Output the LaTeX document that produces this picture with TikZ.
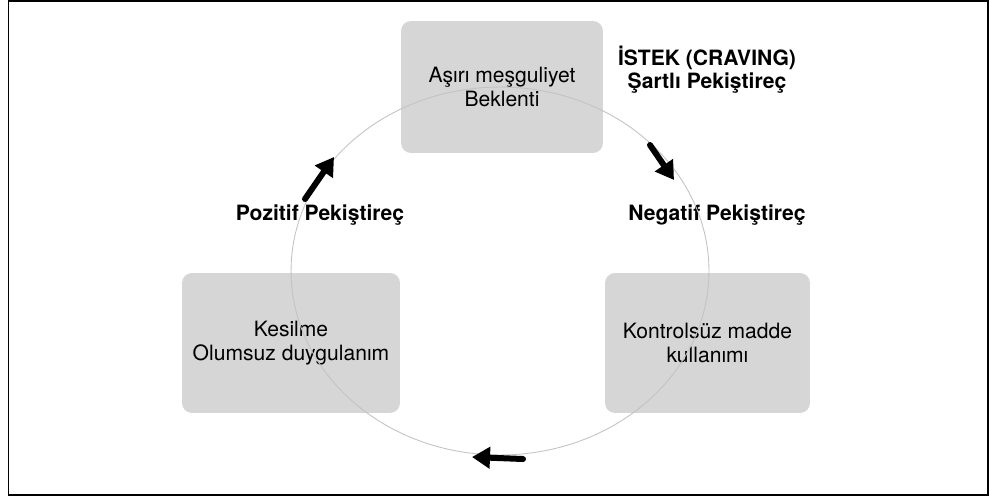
\documentclass[tikz,border=0pt]{standalone}
\usepackage{fontspec}
\setmainfont{TeX Gyre Heros}
\usetikzlibrary{arrows.meta, positioning}
\definecolor{boxgrey}{RGB}{214,214,214}
\definecolor{ringgrey}{RGB}{195,195,195}

\begin{document}
\begin{tikzpicture}[
  x=0.02cm, y=-0.02cm,
  stage/.style={rectangle, rounded corners=0.2cm, fill=boxgrey,
                minimum height=2.8cm, align=center,
                font=\fontsize{12}{13.6}\selectfont},
  lbl/.style={font=\fontsize{12}{13.2}\selectfont\bfseries, align=center},
  arr/.style={-{Triangle[length=0.36cm, width=0.42cm]}, line width=0.12cm, line cap=round},
  ring/.style={draw=ringgrey, line width=0.5pt}
]
\useasboundingbox (0,0) rectangle (989,497);
\draw[line width=0.04cm] (8.5,1) rectangle (988,495);

\node[stage, minimum width=4.04cm, minimum height=2.64cm] (craving) at (502,87) {Aşırı meşguliyet\\Beklenti};
\node[stage, minimum width=4.1cm]  (use)      at (707.5,343) {Kontrolsüz madde\\kullanımı};
\node[stage, minimum width=4.36cm] (withdraw) at (291,343)   {Kesilme\\Olumsuz duygulanım};

\node[lbl] (istek) at (707,70)  {İSTEK (CRAVING)\\Şartlı Pekiştireç};
\node[lbl] (neg)   at (717,215) {Negatif Pekiştireç};
\node[lbl] (pos)   at (320,215) {Pozitif Pekiştireç};

% the cycle ring runs over the boxes
\coordinate (centre) at (500,271);
\draw[ring] (centre) ellipse [x radius=4.18cm, y radius=3.68cm];

% arrows along the ring
\coordinate (posA) at (305,199);
\coordinate (posB) at (334,157);
\coordinate (negA) at (650,145);
\coordinate (negB) at (674,180);
\coordinate (botA) at (523,459);
\coordinate (botB) at (472,457);
\draw[arr] (posA) -- (posB);
\draw[arr] (negA) -- (negB);
\draw[arr] (botA) -- (botB);
\end{tikzpicture}
\end{document}
